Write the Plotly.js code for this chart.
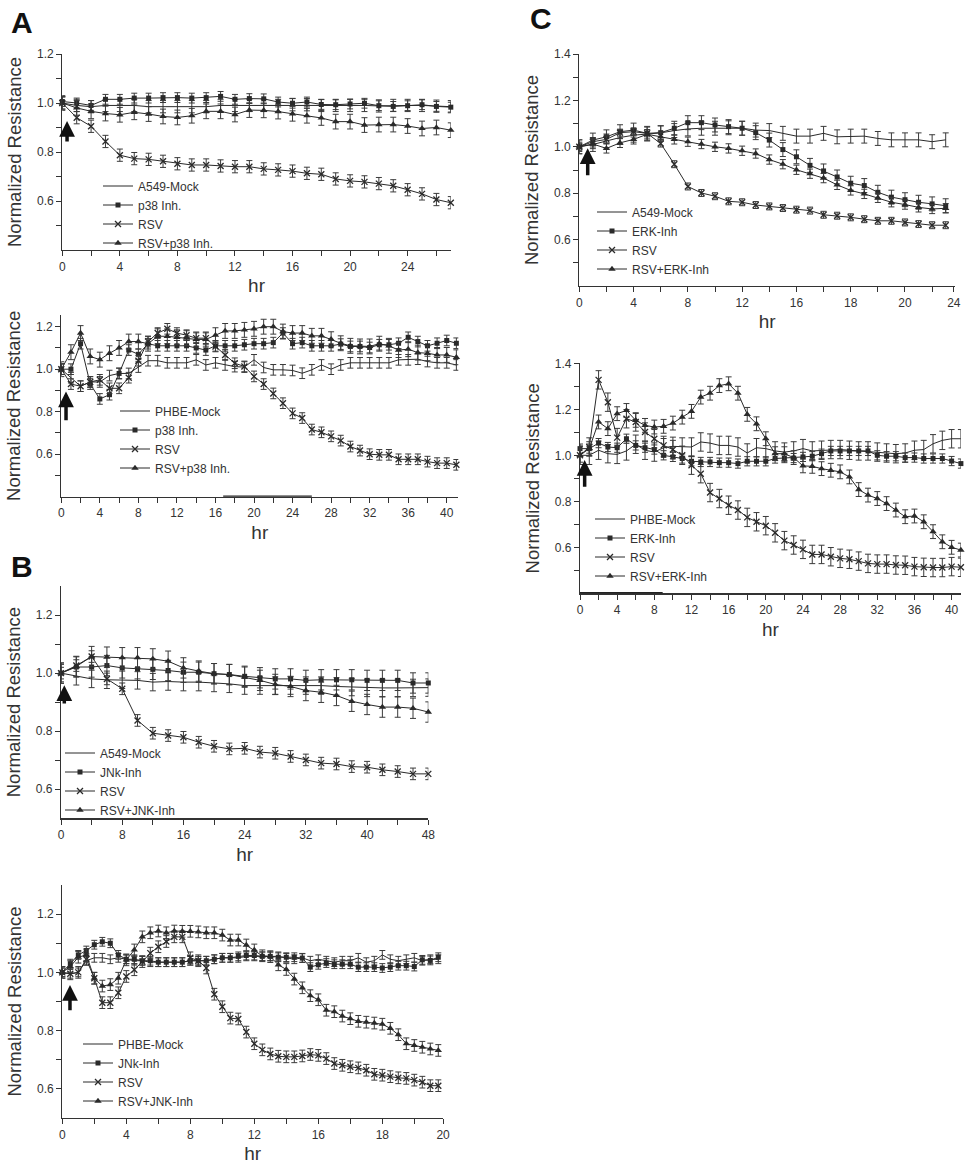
<!DOCTYPE html>
<html>
<head>
<meta charset="utf-8">
<script src="https://cdn.plot.ly/plotly-3.0.1.min.js"></script>
<style>html,body{margin:0;padding:0;background:#fff;}#chart{width:972px;height:1169px;}</style>
</head>
<body>
<div id="chart"></div>
<script>
// ---------------- DATA ----------------
// Panel A (top): A549 cells, p38 inhibitor, hourly 0..27 h
const aTopHr = [0,1,2,3,4,5,6,7,8,9,10,11,12,13,14,15,16,17,18,19,20,21,22,23,24,25,26,27];
const aTopMock = [1.0,0.99,0.985,0.99,0.99,0.99,0.985,0.985,0.985,0.985,0.985,0.99,0.99,0.99,0.99,0.99,0.993,0.993,0.99,0.99,0.99,0.99,0.988,0.99,0.99,0.99,0.987,0.985];
const aTopInh = [1.006,1.0,0.99,1.015,1.015,1.02,1.02,1.022,1.022,1.02,1.022,1.027,1.015,1.018,1.017,1.004,0.999,1.004,0.994,0.993,0.996,0.999,0.989,0.986,0.989,0.993,0.986,0.983];
const aTopRsv = [1.0,0.94,0.905,0.843,0.787,0.773,0.77,0.762,0.752,0.747,0.747,0.743,0.74,0.74,0.731,0.727,0.722,0.713,0.709,0.69,0.682,0.678,0.671,0.662,0.646,0.629,0.606,0.593];
const aTopRsvInh = [1.0,0.98,0.966,0.957,0.952,0.962,0.955,0.945,0.941,0.948,0.966,0.966,0.953,0.971,0.97,0.965,0.956,0.948,0.939,0.924,0.924,0.91,0.912,0.912,0.906,0.896,0.9,0.889];

// Panel A (bottom): PHBE cells, p38 inhibitor, hourly 0..41 h
const aBotHr = [0,1,2,3,4,5,6,7,8,9,10,11,12,13,14,15,16,17,18,19,20,21,22,23,24,25,26,27,28,29,30,31,32,33,34,35,36,37,38,39,40,41];
const aBotMock = [1.0,0.96,0.92,0.94,0.94,0.97,0.98,0.98,1.01,1.04,1.04,1.03,1.03,1.03,1.044,1.02,1.03,1.02,1.012,1.01,1.044,1.008,0.997,0.997,0.994,0.981,0.997,1.02,1.0,1.02,1.03,1.03,1.03,1.03,1.03,1.044,1.044,1.047,1.036,1.03,1.03,1.02];
const aBotInh = [1.0,1.0,1.12,0.93,0.86,0.88,0.98,1.09,1.07,1.12,1.11,1.11,1.11,1.11,1.1,1.09,1.11,1.11,1.11,1.115,1.12,1.12,1.125,1.17,1.12,1.125,1.11,1.11,1.11,1.118,1.107,1.107,1.102,1.115,1.115,1.122,1.15,1.13,1.11,1.122,1.135,1.122];
const aBotRsv = [1.0,0.93,0.92,0.94,0.95,0.91,0.91,0.96,1.04,1.13,1.17,1.19,1.17,1.16,1.146,1.146,1.107,1.067,1.028,1.013,0.966,0.93,0.886,0.84,0.792,0.77,0.716,0.703,0.684,0.664,0.636,0.617,0.6,0.597,0.597,0.576,0.576,0.576,0.565,0.558,0.558,0.55];
const aBotRsvInh = [1.0,1.08,1.17,1.06,1.045,1.075,1.1,1.13,1.13,1.12,1.155,1.155,1.15,1.146,1.14,1.14,1.16,1.18,1.18,1.185,1.19,1.2,1.2,1.177,1.17,1.17,1.157,1.157,1.141,1.122,1.11,1.107,1.107,1.12,1.11,1.09,1.094,1.078,1.075,1.067,1.067,1.056];

// Panel B (top): A549 cells, JNK inhibitor, every 2 h
const bTopHr = [0,2,4,6,8,10,12,14,16,18,20,22,24,26,28,30,32,34,36,38,40,42,44,46,48];
const bTopMock = [1.0,0.989,0.98,0.977,0.977,0.975,0.969,0.971,0.969,0.969,0.966,0.963,0.957,0.957,0.957,0.957,0.957,0.957,0.954,0.952,0.949,0.949,0.949,0.949,0.95];
const bTopInh = [1.0,1.021,1.021,1.026,1.018,1.015,1.013,1.009,1.003,1.003,0.998,0.995,0.989,0.984,0.98,0.98,0.975,0.977,0.977,0.977,0.975,0.975,0.975,0.966,0.966];
const bTopRsv = [1.0,1.026,1.057,0.98,0.946,0.837,0.793,0.785,0.779,0.762,0.748,0.739,0.741,0.728,0.724,0.713,0.701,0.69,0.687,0.678,0.676,0.667,0.661,0.653,0.653];
const bTopRsvInh = [1.0,1.023,1.057,1.055,1.053,1.053,1.049,1.041,1.018,1.007,0.998,0.995,0.986,0.975,0.961,0.954,0.94,0.934,0.923,0.903,0.892,0.883,0.883,0.879,0.866];

// Panel B (bottom): PHBE cells, JNK inhibitor, time points (category index 0..47)
const bBotIdx = [0,1,2,3,4,5,6,7,8,9,10,11,12,13,14,15,16,17,18,19,20,21,22,23,24,25,26,27,28,29,30,31,32,33,34,35,36,37,38,39,40,41,42,43,44,45,46,47];
const bBotMock = [1.0,0.995,1.0,1.04,1.05,1.05,1.045,1.05,1.045,1.04,1.04,1.035,1.035,1.035,1.035,1.035,1.04,1.04,1.04,1.045,1.05,1.05,1.05,1.055,1.055,1.055,1.055,1.055,1.05,1.045,1.05,1.04,1.045,1.04,1.035,1.04,1.04,1.05,1.035,1.04,1.06,1.045,1.04,1.045,1.05,1.04,1.045,1.045];
const bBotInh = [1.0,1.03,1.06,1.075,1.095,1.105,1.1,1.06,1.045,1.045,1.04,1.04,1.035,1.035,1.035,1.035,1.04,1.04,1.04,1.045,1.05,1.05,1.055,1.058,1.058,1.055,1.055,1.052,1.052,1.052,1.049,1.018,1.026,1.032,1.028,1.028,1.028,1.018,1.018,1.018,1.015,1.018,1.023,1.023,1.02,1.043,1.041,1.052];
const bBotRsv = [1.0,0.995,1.0,1.045,0.98,0.896,0.896,0.93,0.986,1.009,1.037,1.066,1.088,1.106,1.122,1.122,1.05,1.04,1.015,0.925,0.882,0.843,0.84,0.795,0.755,0.734,0.72,0.712,0.71,0.71,0.713,0.718,0.715,0.704,0.687,0.681,0.676,0.672,0.664,0.65,0.647,0.642,0.638,0.636,0.63,0.623,0.611,0.611];
const bBotRsvInh = [1.0,1.02,1.052,1.06,0.98,0.953,0.958,0.98,1.043,1.077,1.122,1.136,1.142,1.136,1.142,1.141,1.141,1.139,1.136,1.136,1.128,1.111,1.111,1.094,1.077,1.057,1.054,1.026,1.01,0.977,0.947,0.92,0.906,0.87,0.865,0.85,0.841,0.832,0.829,0.826,0.822,0.808,0.786,0.755,0.749,0.743,0.737,0.732];

// Panel C (top): A549 cells, ERK inhibitor, time points (category index 0..27)
const cTopIdx = [0,1,2,3,4,5,6,7,8,9,10,11,12,13,14,15,16,17,18,19,20,21,22,23,24,25,26,27];
const cTopMock = [1.0,1.01,1.025,1.04,1.05,1.055,1.06,1.07,1.077,1.08,1.08,1.082,1.08,1.072,1.07,1.058,1.046,1.046,1.058,1.043,1.046,1.046,1.036,1.03,1.03,1.03,1.022,1.03];
const cTopInh = [1.0,1.029,1.043,1.065,1.072,1.058,1.061,1.08,1.104,1.104,1.094,1.087,1.08,1.061,1.029,0.988,0.957,0.92,0.896,0.87,0.843,0.833,0.804,0.783,0.772,0.761,0.754,0.746];
const cTopRsv = [1.0,1.022,1.032,1.061,1.065,1.058,1.014,0.925,0.829,0.801,0.787,0.765,0.761,0.749,0.743,0.736,0.729,0.725,0.707,0.703,0.696,0.688,0.681,0.681,0.674,0.667,0.662,0.662];
const cTopRsvInh = [1.0,1.012,0.993,1.017,1.032,1.054,1.043,1.032,1.022,1.012,1.0,0.993,0.983,0.971,0.945,0.925,0.901,0.884,0.865,0.836,0.812,0.797,0.78,0.761,0.751,0.739,0.732,0.735];

// Panel C (bottom): PHBE cells, ERK inhibitor, hourly 0..41 h
const cBotHr = [0,1,2,3,4,5,6,7,8,9,10,11,12,13,14,15,16,17,18,19,20,21,22,23,24,25,26,27,28,29,30,31,32,33,34,35,36,37,38,39,40,41];
const cBotMock = [1.0,1.0,1.022,1.007,1.004,1.019,1.048,1.022,1.014,1.033,1.039,1.036,1.036,1.058,1.053,1.043,1.043,1.036,1.01,1.033,1.029,1.019,1.014,1.019,1.029,1.019,1.022,1.025,1.025,1.022,1.019,1.019,1.014,1.01,1.007,1.01,1.022,1.025,1.05,1.065,1.072,1.072];
const cBotInh = [1.029,1.029,1.053,1.036,1.033,1.072,1.043,1.033,1.025,1.0,0.993,0.986,0.974,0.971,0.971,0.968,0.968,0.964,0.974,0.974,0.974,0.986,0.988,0.988,0.993,0.996,1.007,1.019,1.019,1.019,1.019,1.019,1.0,0.996,0.996,0.99,0.99,0.986,0.986,0.986,0.975,0.964];
const cBotRsv = [1.0,1.036,1.328,1.231,1.077,1.159,1.145,1.101,1.072,1.043,1.025,1.0,0.957,0.92,0.838,0.812,0.783,0.762,0.73,0.711,0.694,0.663,0.629,0.61,0.591,0.569,0.569,0.559,0.552,0.548,0.54,0.53,0.527,0.527,0.523,0.522,0.516,0.513,0.512,0.512,0.516,0.513];
const cBotRsvInh = [1.0,1.029,1.145,1.116,1.181,1.195,1.152,1.13,1.123,1.126,1.14,1.166,1.191,1.253,1.27,1.303,1.311,1.27,1.178,1.137,1.072,1.007,1.007,0.99,0.954,0.952,0.942,0.935,0.928,0.906,0.851,0.827,0.812,0.79,0.762,0.733,0.736,0.711,0.668,0.624,0.6,0.588];

// Series names
const namesATop = ['A549-Mock','p38 Inh.','RSV','RSV+p38 Inh.'];
const namesABot = ['PHBE-Mock','p38 Inh.','RSV','RSV+p38 Inh.'];
const namesBTop = ['A549-Mock','JNk-Inh','RSV','RSV+JNK-Inh'];
const namesBBot = ['PHBE-Mock','JNk-Inh','RSV','RSV+JNK-Inh'];
const namesCTop = ['A549-Mock','ERK-Inh','RSV','RSV+ERK-Inh'];
const namesCBot = ['PHBE-Mock','ERK-Inh','RSV','RSV+ERK-Inh'];

// Error bar half-widths (per series: mock, inhibitor, RSV, RSV+inhibitor)
const errATop = [0.025,0.02,0.025,0.03];
const errABot = [0.025,0.025,0.025,0.035];
const errBTop = [0.03,0.035,0.02,0.035];
const errBBot = [0.015,0.015,0.02,0.02];
const errCTop = [0.03,0.03,0.015,0.02];
const errCBot = [0.04,0.02,0.04,0.03];

// Tick values / labels
const xTicksATop = [0,2,4,6,8,10,12,14,16,18,20,22,24,26];
const xLabelsATop = ['0','','4','','8','','12','','16','','20','','24',''];
const xTicksABot = [0,2,4,6,8,10,12,14,16,18,20,22,24,26,28,30,32,34,36,38,40];
const xLabelsABot = ['0','','4','','8','','12','','16','','20','','24','','28','','32','','36','','40'];
const xTicksBTop = [0,4,8,12,16,20,24,28,32,36,40,44,48];
const xLabelsBTop = ['0','','8','','16','','24','','32','','40','','48'];
const xTicksBBot = [0,4,8,12,16,20,24,28,32,36,40,44,47.6];
const xLabelsBBot = ['0','','4','','8','','12','','16','','18','','20'];
const xTicksCTop = [0,2,4,6,8,10,12,14,16,18,20,22,24,26,27.6];
const xLabelsCTop = ['0','','4','','8','','12','','16','','18','','20','','24'];
const xTicksCBot = [0,2,4,6,8,10,12,14,16,18,20,22,24,26,28,30,32,34,36,38,40];
const xLabelsCBot = ['0','','4','','8','','12','','16','','20','','24','','28','','32','','36','','40'];
const yTicks12 = [0.5,0.6,0.7,0.8,0.9,1.0,1.1,1.2];
const yLabels12 = ['','0.6','','0.8','','1.0','','1.2'];
const yTicks14 = [0.5,0.6,0.7,0.8,0.9,1.0,1.1,1.2,1.3,1.4];
const yLabels14 = ['','0.6','','0.8','','1.0','','1.2','','1.4'];

// ---------------- STYLE / LAYOUT ----------------
const FONT = 'Arial, "Liberation Sans", Helvetica, sans-serif';
const W = 972, H = 1169;
const INK = '#2a2a2a';
function px2x(a, b){ return [a / W, b / W]; }
function px2y(bottom, top){ return [1 - bottom / H, 1 - top / H]; }

const styles = [
  {mode:'lines', marker:{}},
  {mode:'lines+markers', marker:{symbol:'square', size:5, color:INK}},
  {mode:'lines+markers', marker:{symbol:'x-thin-open', size:6, color:INK, line:{width:1.3, color:INK}}},
  {mode:'lines+markers', marker:{symbol:'triangle-up', size:6.5, color:INK}}
];

const traces = [];
function addPanel(n, x, series, names, errs){
  const suf = n === 1 ? '' : String(n);
  series.forEach((y, k) => {
    traces.push({
      type:'scatter', x: x, y: y, name: names[k],
      xaxis:'x' + suf, yaxis:'y' + suf, legend:'legend' + suf,
      mode: styles[k].mode, marker: styles[k].marker,
      line:{color:INK, width:1},
      error_y:{type:'constant', value: errs[k], color:'#3a3a3a', thickness:1, width:3},
      cliponaxis:false
    });
  });
}
addPanel(1, aTopHr, [aTopMock, aTopInh, aTopRsv, aTopRsvInh], namesATop, errATop);
addPanel(2, aBotHr, [aBotMock, aBotInh, aBotRsv, aBotRsvInh], namesABot, errABot);
addPanel(3, bTopHr, [bTopMock, bTopInh, bTopRsv, bTopRsvInh], namesBTop, errBTop);
addPanel(4, bBotIdx, [bBotMock, bBotInh, bBotRsv, bBotRsvInh], namesBBot, errBBot);
addPanel(5, cTopIdx, [cTopMock, cTopInh, cTopRsv, cTopRsvInh], namesCTop, errCTop);
addPanel(6, cBotHr, [cBotMock, cBotInh, cBotRsv, cBotRsvInh], namesCBot, errCBot);

function xAxis(n, dom, range, tv, tt){
  const suf = n === 1 ? '' : String(n);
  return {domain: dom, anchor:'y' + suf, range: range, tickvals: tv, ticktext: tt,
    showline:true, linecolor:'#333', linewidth:1.2, ticks:'outside', ticklen:5, tickwidth:1, tickcolor:'#333',
    showgrid:false, zeroline:false, fixedrange:true,
    tickfont:{family:FONT, size:12, color:'#333'},
    title:{text:'hr', font:{family:FONT, size:19, color:'#333'}, standoff:6}};
}
function yAxis(n, dom, range, tv, tt){
  const suf = n === 1 ? '' : String(n);
  return {domain: dom, anchor:'x' + suf, range: range, tickvals: tv, ticktext: tt,
    showline:true, linecolor:'#333', linewidth:1.2, ticks:'outside', ticklen:5, tickwidth:1, tickcolor:'#333',
    showgrid:false, zeroline:false, fixedrange:true,
    tickfont:{family:FONT, size:12, color:'#333'},
    title:{text:'Normalized Resistance', font:{family:FONT, size:18.5, color:'#333'}, standoff:10}};
}
function legendAt(xpx, ypx){
  return {x: xpx / W, y: 1 - ypx / H, xanchor:'left', yanchor:'top', bgcolor:'rgba(0,0,0,0)', borderwidth:0,
    font:{family:FONT, size:12, color:'#333'}, itemwidth:30, traceorder:'normal', tracegroupgap:0};
}
function arrow(n, x, tip, tail){
  const suf = n === 1 ? '' : String(n);
  return {xref:'x' + suf, yref:'y' + suf, axref:'x' + suf, ayref:'y' + suf, x:x, y:tip, ax:x, ay:tail,
    text:'', showarrow:true, arrowhead:2, arrowsize:0.9, arrowwidth:3.5, arrowcolor:'#111'};
}
function letter(t, xpx, ypx){
  return {xref:'paper', yref:'paper', x: xpx / W, y: 1 - ypx / H, xanchor:'center', yanchor:'middle',
    text:'<b>' + t + '</b>', showarrow:false, font:{family:FONT, size:30, color:'#111'}};
}

const layout = {
  width: W, height: H, margin:{l:0, r:0, t:0, b:0},
  paper_bgcolor:'#fff', plot_bgcolor:'rgba(0,0,0,0)',
  showlegend:true,
  font:{family:FONT, color:'#333'},
  xaxis:  xAxis(1, px2x(62.3, 450.8), [0, 27], xTicksATop, xLabelsATop),
  yaxis:  yAxis(1, px2y(250, 54), [0.4, 1.2], yTicks12, yLabels12),
  xaxis2: xAxis(2, px2x(61.3, 458.3), [0, 41.2], xTicksABot, xLabelsABot),
  yaxis2: yAxis(2, px2y(496.7, 315), [0.4, 1.255], yTicks12, yLabels12),
  xaxis3: xAxis(3, px2x(61, 428.3), [0, 48], xTicksBTop, xLabelsBTop),
  yaxis3: yAxis(3, px2y(818.3, 586), [0.5, 1.3], yTicks12.slice(1), yLabels12.slice(1)),
  xaxis4: xAxis(4, px2x(62.3, 443.1), [0, 47.6], xTicksBBot, xLabelsBBot),
  yaxis4: yAxis(4, px2y(1118, 885), [0.5, 1.3], yTicks12.slice(1), yLabels12.slice(1)),
  xaxis5: xAxis(5, px2x(579.3, 955.2), [0, 27.7], xTicksCTop, xLabelsCTop),
  yaxis5: yAxis(5, px2y(286, 54), [0.4, 1.4], yTicks14, yLabels14),
  xaxis6: xAxis(6, px2x(580, 960.9), [0, 41], xTicksCBot, xLabelsCBot),
  yaxis6: yAxis(6, px2y(593.3, 363.3), [0.4, 1.4], yTicks14, yLabels14),
  legend:  legendAt(98, 171.5),
  legend2: legendAt(115, 396.5),
  legend3: legendAt(60, 738.5),
  legend4: legendAt(78, 1029.5),
  legend5: legendAt(592, 197.5),
  legend6: legendAt(590, 504.5),
  annotations: [
    letter('A', 22, 22), letter('B', 22, 566), letter('C', 541, 19),
    arrow(1, 0.33, 0.927, 0.837),
    arrow(2, 0.49, 0.895, 0.753),
    arrow(3, 0.43, 0.958, 0.89),
    arrow(4, 0.96, 0.957, 0.865),
    arrow(5, 0.62, 0.994, 0.871),
    arrow(6, 0.5, 0.98, 0.857)
  ],
  shapes: [
    {type:'line', xref:'x2', yref:'y2', x0:16.8, x1:26.0, y0:0.4, y1:0.4, line:{color:'#222', width:2.5}},
    {type:'line', xref:'x6', yref:'y6', x0:0, x1:8.9, y0:0.4, y1:0.4, line:{color:'#222', width:2.5}}
  ]
};

Plotly.newPlot('chart', traces, layout, {staticPlot:true, displayModeBar:false});
</script>
</body>
</html>
